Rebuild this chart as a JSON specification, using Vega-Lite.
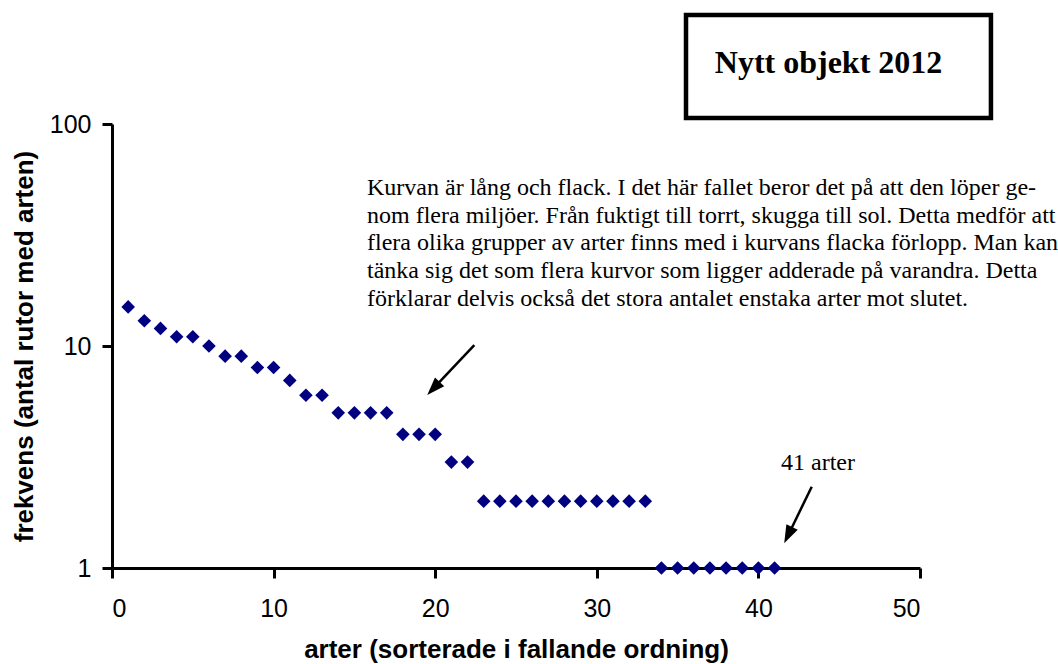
{
  "$schema": "https://vega.github.io/schema/vega-lite/v6.json",
  "width": 808,
  "height": 444,
  "autosize": {"type": "none"},
  "padding": {"left": 112, "top": 124, "right": 138, "bottom": 96},
  "background": "white",
  "config": {
    "view": {"stroke": null},
    "axis": {
      "domainColor": "black",
      "domainWidth": 3,
      "tickColor": "black",
      "tickWidth": 3,
      "tickSize": 10,
      "grid": false,
      "labelFont": "Liberation Sans",
      "labelFontSize": 25,
      "labelColor": "black",
      "titleFont": "Liberation Sans",
      "titleFontSize": 26,
      "titleFontWeight": "bold",
      "titleColor": "black"
    }
  },
  "data": {
    "values": [
      {"art": 1, "frekvens": 15}, {"art": 2, "frekvens": 13}, {"art": 3, "frekvens": 12},
      {"art": 4, "frekvens": 11}, {"art": 5, "frekvens": 11}, {"art": 6, "frekvens": 10},
      {"art": 7, "frekvens": 9}, {"art": 8, "frekvens": 9}, {"art": 9, "frekvens": 8},
      {"art": 10, "frekvens": 8}, {"art": 11, "frekvens": 7}, {"art": 12, "frekvens": 6},
      {"art": 13, "frekvens": 6}, {"art": 14, "frekvens": 5}, {"art": 15, "frekvens": 5},
      {"art": 16, "frekvens": 5}, {"art": 17, "frekvens": 5}, {"art": 18, "frekvens": 4},
      {"art": 19, "frekvens": 4}, {"art": 20, "frekvens": 4}, {"art": 21, "frekvens": 3},
      {"art": 22, "frekvens": 3}, {"art": 23, "frekvens": 2}, {"art": 24, "frekvens": 2},
      {"art": 25, "frekvens": 2}, {"art": 26, "frekvens": 2}, {"art": 27, "frekvens": 2},
      {"art": 28, "frekvens": 2}, {"art": 29, "frekvens": 2}, {"art": 30, "frekvens": 2},
      {"art": 31, "frekvens": 2}, {"art": 32, "frekvens": 2}, {"art": 33, "frekvens": 2},
      {"art": 34, "frekvens": 1}, {"art": 35, "frekvens": 1}, {"art": 36, "frekvens": 1},
      {"art": 37, "frekvens": 1}, {"art": 38, "frekvens": 1}, {"art": 39, "frekvens": 1},
      {"art": 40, "frekvens": 1}, {"art": 41, "frekvens": 1}
    ]
  },
  "layer": [
    {
      "mark": {"type": "point", "shape": "diamond", "filled": true, "color": "#000080", "opacity": 1, "size": 185},
      "encoding": {
        "x": {
          "field": "art", "type": "quantitative",
          "scale": {"domain": [0, 50], "nice": false},
          "axis": {"values": [0, 10, 20, 30, 40, 50], "labelPadding": 18, "titlePadding": 15, "title": "arter (sorterade i fallande ordning)"}
        },
        "y": {
          "field": "frekvens", "type": "quantitative",
          "scale": {"type": "log", "domain": [1, 100], "nice": false},
          "axis": {"values": [1, 10, 100], "format": "d", "labelPadding": 11, "titlePadding": 12, "title": "frekvens (antal rutor med arten)"}
        }
      }
    },
    {
      "data": {"values": [{}]},
      "mark": {"type": "rule", "color": "black", "strokeWidth": 2.5},
      "encoding": {
        "x": {"datum": 22.42}, "y": {"datum": 10.1},
        "x2": {"datum": 19.89}, "y2": {"datum": 6.44}
      }
    },
    {
      "data": {"values": [{}]},
      "mark": {"type": "point", "shape": "M0,-1L-0.7,1L0.7,1Z", "filled": true, "color": "black", "opacity": 1, "size": 324, "angle": 223.2},
      "encoding": {"x": {"datum": 19.89}, "y": {"datum": 6.44}}
    },
    {
      "data": {"values": [{}]},
      "mark": {"type": "rule", "color": "black", "strokeWidth": 2.5},
      "encoding": {
        "x": {"datum": 43.3}, "y": {"datum": 2.324},
        "x2": {"datum": 41.84}, "y2": {"datum": 1.405}
      }
    },
    {
      "data": {"values": [{}]},
      "mark": {"type": "point", "shape": "M0,-1L-0.7,1L0.7,1Z", "filled": true, "color": "black", "opacity": 1, "size": 324, "angle": 205.8},
      "encoding": {"x": {"datum": 41.84}, "y": {"datum": 1.405}}
    },
    {
      "data": {"values": [{}]},
      "mark": {
        "type": "text", "align": "left", "baseline": "alphabetic",
        "font": "Liberation Serif", "fontSize": 24, "lineHeight": 27.7, "color": "black",
        "text": [
          "Kurvan är lång och flack. I det här fallet beror det på att den löper ge-",
          "nom flera miljöer. Från fuktigt till torrt, skugga till sol. Detta medför att",
          "flera olika grupper av arter finns med i kurvans flacka förlopp. Man kan",
          "tänka sig det som flera kurvor som ligger adderade på varandra. Detta",
          "förklarar delvis också det stora antalet enstaka arter mot slutet."
        ]
      },
      "encoding": {"x": {"datum": 15.78}, "y": {"datum": 47.88}}
    },
    {
      "data": {"values": [{}]},
      "mark": {"type": "text", "align": "left", "baseline": "alphabetic", "font": "Liberation Serif", "fontSize": 24, "color": "black", "text": "41 arter"},
      "encoding": {"x": {"datum": 41.4}, "y": {"datum": 2.763}}
    },
    {
      "data": {"values": [{}]},
      "mark": {"type": "rect", "fill": "white", "stroke": "black", "strokeWidth": 4.5},
      "encoding": {
        "x": {"datum": 35.52}, "x2": {"datum": 54.39},
        "y": {"datum": 106.4}, "y2": {"datum": 309.7}
      }
    },
    {
      "data": {"values": [{}]},
      "mark": {"type": "text", "align": "center", "baseline": "alphabetic", "font": "Liberation Serif", "fontSize": 32, "fontWeight": "bold", "color": "black", "text": "Nytt objekt 2012"},
      "encoding": {"x": {"datum": 44.34}, "y": {"datum": 169.7}}
    }
  ]
}
